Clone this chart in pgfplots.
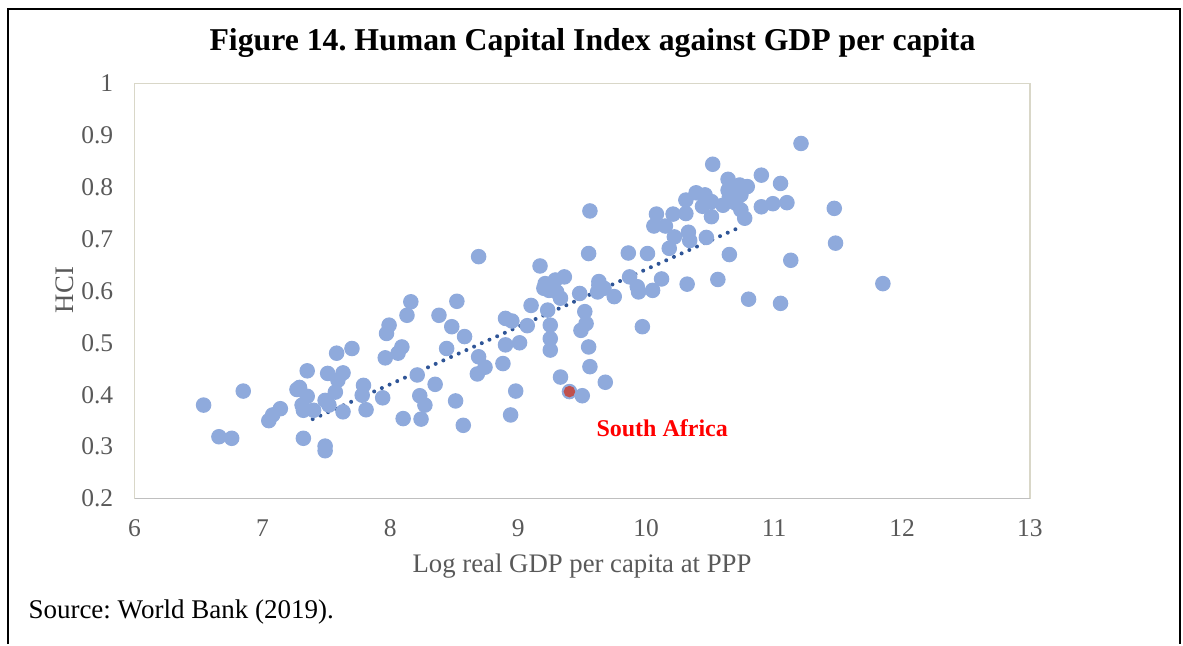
\documentclass[border=0pt]{standalone}
\usepackage{pgfplots}
\pgfplotsset{compat=1.18}
\usepackage{pgfplotstable}
\usepackage{fontspec}
\setmainfont{Liberation Serif}
\frenchspacing
\definecolor{mk}{RGB}{143,170,220}
\definecolor{tr}{RGB}{47,85,151}
\definecolor{tx}{RGB}{89,89,89}
\definecolor{pb}{RGB}{217,215,200}
\definecolor{ax}{RGB}{191,191,191}
\definecolor{sa}{RGB}{192,80,77}

\pgfplotstableread{
x y
6.54 0.380
6.66 0.319
6.76 0.316
6.85 0.407
7.05 0.350
7.08 0.361
7.14 0.373
7.27 0.410
7.29 0.414
7.31 0.380
7.32 0.370
7.32 0.316
7.35 0.397
7.35 0.446
7.40 0.370
7.49 0.389
7.49 0.301
7.49 0.292
7.51 0.441
7.52 0.380
7.57 0.405
7.58 0.480
7.59 0.428
7.63 0.442
7.63 0.367
7.70 0.489
7.78 0.399
7.79 0.418
7.81 0.371
7.94 0.394
7.96 0.471
7.97 0.518
7.99 0.534
8.06 0.480
8.09 0.492
8.10 0.354
8.13 0.553
8.16 0.579
8.21 0.438
8.23 0.398
8.24 0.353
8.27 0.380
8.35 0.420
8.38 0.553
8.44 0.489
8.48 0.531
8.51 0.388
8.52 0.580
8.57 0.341
8.58 0.512
8.68 0.440
8.69 0.473
8.69 0.666
8.74 0.453
8.88 0.460
8.90 0.547
8.90 0.496
8.94 0.361
8.95 0.542
8.98 0.407
9.01 0.500
9.07 0.533
9.10 0.572
9.17 0.648
9.20 0.605
9.21 0.614
9.23 0.563
9.24 0.601
9.25 0.534
9.25 0.508
9.25 0.486
9.29 0.621
9.30 0.598
9.33 0.586
9.33 0.434
9.36 0.627
9.48 0.595
9.49 0.524
9.50 0.398
9.52 0.560
9.53 0.537
9.55 0.672
9.55 0.492
9.56 0.754
9.56 0.454
9.62 0.598
9.63 0.618
9.63 0.611
9.67 0.605
9.68 0.424
9.75 0.589
9.86 0.673
9.87 0.627
9.93 0.608
9.94 0.598
9.97 0.531
10.01 0.672
10.05 0.601
10.06 0.725
10.08 0.748
10.12 0.623
10.15 0.725
10.18 0.682
10.21 0.748
10.22 0.704
10.31 0.749
10.31 0.775
10.32 0.613
10.33 0.713
10.34 0.697
10.39 0.789
10.44 0.763
10.46 0.785
10.47 0.703
10.51 0.772
10.51 0.743
10.52 0.844
10.56 0.622
10.60 0.765
10.64 0.815
10.64 0.794
10.65 0.781
10.65 0.670
10.69 0.801
10.70 0.769
10.73 0.804
10.74 0.785
10.74 0.756
10.77 0.740
10.79 0.801
10.80 0.584
10.90 0.823
10.90 0.762
10.99 0.768
11.05 0.807
11.05 0.576
11.10 0.770
11.13 0.659
11.21 0.884
11.47 0.759
11.48 0.692
11.85 0.614
}\hci

\begin{document}
\begin{tikzpicture}
\path (0,0) rectangle (473.2pt,257.6pt);
\draw[line width=0.8pt] (3.2pt,0) -- (3.2pt,254pt) -- (471.8pt,254pt) -- (471.8pt,0);
\begin{axis}[
  at={(53.8pt,58.2pt)}, anchor=south west,
  scale only axis, width=358.2pt, height=166.1pt,
  xmin=6, xmax=13, ymin=0.2, ymax=1,
  xtick={6,7,8,9,10,11,12,13},
  ytick={0.2,0.3,0.4,0.5,0.6,0.7,0.8,0.9,1},
  major tick length=0pt,
  axis line style={pb, line width=0.6pt},
  ticklabel style={font=\fontsize{10.2}{12}\selectfont, text=tx},
  /pgf/number format/assume math mode=true,
  yticklabel style={xshift=-5pt},
  xticklabel style={yshift=-4.9pt},
]
\addplot[only marks, mark=*, mark size=2.9pt, mark options={fill=mk, draw=mk}] table {\hci};
\addplot[only marks, mark=*, mark size=2.9pt, mark options={fill=mk, draw=mk}] coordinates {(9.40,0.406)};
\addplot[only marks, mark=*, mark size=2.1pt, mark options={fill=sa, draw=sa}] coordinates {(9.40,0.406)};
\addplot[tr, line width=1.6pt, line cap=round, dash pattern=on 0pt off 3.37pt] coordinates {(7.393,0.353) (10.754,0.725)};
\draw[ax, line width=0.7pt] (axis cs:6,0.2) -- (axis cs:13,0.2);
\end{axis}
\node[anchor=base, inner sep=0, font=\bfseries\fontsize{12.7}{15}\selectfont] at (237pt,237.6pt) {Figure 14. Human Capital Index against GDP per capita};
\node[anchor=base, inner sep=0, text=tx, font=\fontsize{10.7}{12}\selectfont] at (232.8pt,28.5pt) {Log real GDP per capita at PPP};
\node[rotate=90, inner sep=0, text=tx, font=\fontsize{10.7}{12}\selectfont] at (26pt,141.6pt) {HCI};
\node[anchor=base west, inner sep=0, font=\fontsize{10.8}{13}\selectfont] at (11.2pt,10.4pt) {Source: World Bank (2019).};
\node[anchor=base west, inner sep=0, text=red, font=\bfseries\fontsize{9.6}{12}\selectfont] at (238.4pt,82.9pt) {South Africa};
\end{tikzpicture}
\end{document}
